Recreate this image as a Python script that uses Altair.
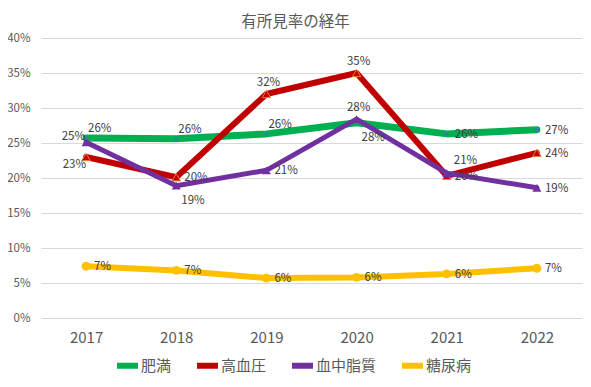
import altair as alt
import pandas as pd

years = ["2017", "2018", "2019", "2020", "2021", "2022"]
series_names = ["肥満", "高血圧", "血中脂質", "糖尿病"]
obesity = [25.7, 25.6, 26.3, 27.9, 26.3, 26.9]
hypertension = [23.0, 20.1, 32.0, 35.0, 20.3, 23.6]
lipids = [25.1, 18.9, 21.1, 28.4, 20.7, 18.6]
diabetes = [7.4, 6.8, 5.7, 5.8, 6.3, 7.1]
colors = ["#00B050", "#C00000", "#7030A0", "#FFC000"]

# data label placement per point
# (r=right, a=above, ar=above-right, au=above-right higher, br=below-right, l=left, lb=left-below)
label_place = {
    "肥満": ["ar", "ar", "ar", "br", "r", "r"],
    "高血圧": ["lb", "r", "a", "a", "r", "r"],
    "血中脂質": ["l", "br", "r", "a", "au", "r"],
    "糖尿病": ["r", "r", "r", "r", "r", "r"],
}

values = {"肥満": obesity, "高血圧": hypertension, "血中脂質": lipids, "糖尿病": diabetes}
rows = []
for s in series_names:
    for i, y in enumerate(years):
        rows.append({"year": y, "series": s, "value": values[s][i] / 100.0,
                     "place": label_place[s][i]})
df = pd.DataFrame(rows)

FONT = "Noto Sans CJK JP"
GRAY = "#595959"

x_enc = alt.X("year:O", scale=alt.Scale(type="point", padding=0.5),
              axis=alt.Axis(title=None, labelAngle=0, labelFontSize=15, labelColor=GRAY,
                            labelPadding=12, ticks=False, domain=False, grid=False))
y_enc = alt.Y("value:Q", scale=alt.Scale(domain=[0, 0.4]),
              axis=alt.Axis(title=None, format=".0%",
                            values=[0, 0.05, 0.1, 0.15, 0.2, 0.25, 0.3, 0.35, 0.4],
                            labelFontSize=11.5, labelColor=GRAY, labelPadding=11,
                            ticks=False, domain=False, grid=True,
                            gridColor="#D9D9D9", gridWidth=1))
color_enc = alt.Color("series:N", scale=alt.Scale(domain=series_names, range=colors),
                      legend=alt.Legend(title=None, orient="none", direction="horizontal",
                                        columns=4, legendX=73, legendY=314,
                                        symbolType="stroke", symbolStrokeWidth=6,
                                        symbolSize=440, labelFontSize=15,
                                        labelColor=GRAY, labelOffset=0,
                                        columnPadding=13, labelFont=FONT))

base = alt.Chart(df).encode(x=x_enc, y=y_enc)

widths = [7, 6, 5, 6]
layers = []
for i, name in enumerate(series_names):
    layers.append(base.transform_filter(alt.datum.series == name)
                  .mark_line(strokeWidth=widths[i], strokeJoin="round", strokeCap="round")
                  .encode(color=color_enc))
    if name == "肥満":
        layers.append(base.transform_filter(alt.datum.series == name)
                      .mark_point(shape="cross", angle=45, size=14, filled=True,
                                  color="#4472C4", opacity=1))
    elif name == "高血圧":
        layers.append(base.transform_filter(alt.datum.series == name)
                      .mark_point(shape="triangle-up", size=70, filled=True,
                                  fill="#C00000", stroke="#ED7D31", strokeWidth=1, opacity=1))
    elif name == "血中脂質":
        layers.append(base.transform_filter(alt.datum.series == name)
                      .mark_point(shape="triangle-up", size=80, filled=True,
                                  color="#7030A0", opacity=1))
    else:
        layers.append(base.transform_filter(alt.datum.series == name)
                      .mark_point(shape="circle", size=80, filled=True,
                                  color="#FFC000", opacity=1))

place_style = {
    "r": dict(align="left", dx=8, dy=1),
    "a": dict(align="center", dx=2, dy=-11),
    "ar": dict(align="left", dx=2, dy=-9),
    "au": dict(align="left", dx=7, dy=-12),
    "br": dict(align="left", dx=5, dy=15),
    "l": dict(align="right", dx=-1, dy=-5),
    "lb": dict(align="right", dx=0, dy=8),
}
for code, st in place_style.items():
    layers.append(base.transform_filter(alt.datum.place == code)
                  .mark_text(baseline="middle", fontSize=11.5, color="#404040", font=FONT, **st)
                  .encode(text=alt.Text("value:Q", format=".0%")))

chart = alt.layer(*layers).properties(
    width=541, height=280,
    padding={"left": 33, "top": 30, "right": 1, "bottom": 61},
    autosize=alt.AutoSizeParams(type="none"),
    title=alt.TitleParams("有所見率の経年", fontSize=15.5, color=GRAY, font=FONT,
                          fontWeight="normal", anchor="middle", dx=-16, offset=2),
).configure(font=FONT).configure_view(stroke=None)

chart.save("out.html", embed_options={"renderer": "svg", "actions": False})
